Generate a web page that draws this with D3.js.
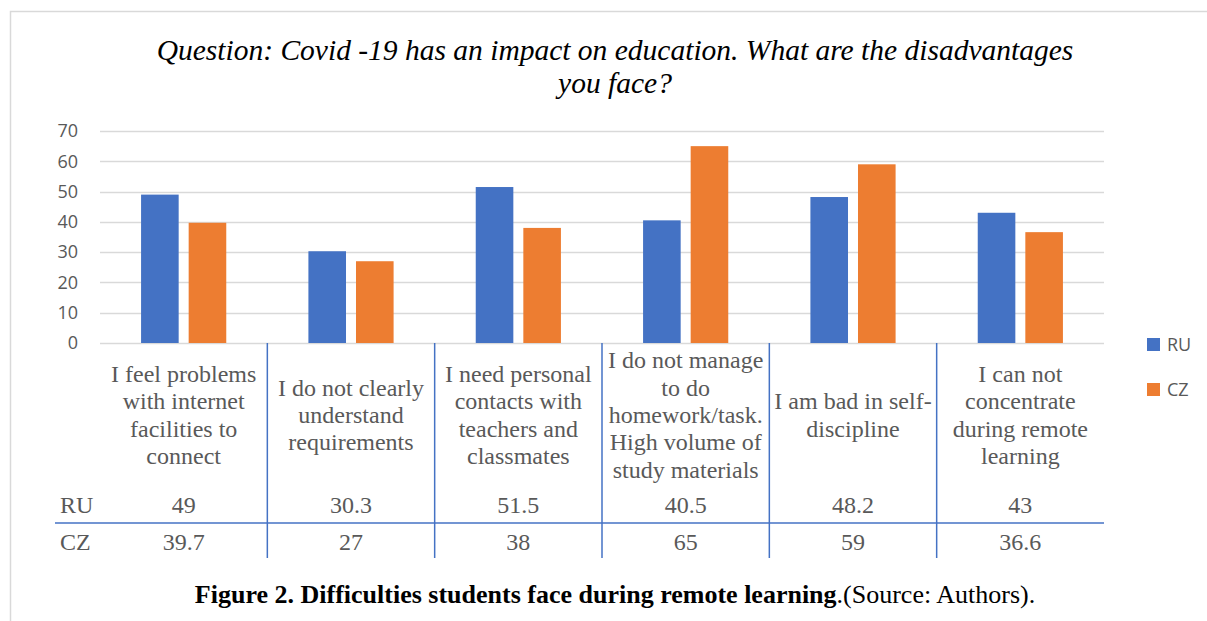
<!DOCTYPE html>
<html><head><meta charset="utf-8">
<script src="https://cdn.jsdelivr.net/npm/d3@7"></script>
<style>html,body{margin:0;padding:0;background:#fff;}svg{display:block;}</style>
</head><body>
<svg id="chart" width="1207" height="621"></svg>
<script>
const categories = [
  ["I feel problems","with internet","facilities to","connect"],
  ["I do not clearly","understand","requirements"],
  ["I need personal","contacts with","teachers and","classmates"],
  ["I do not manage","to do","homework/task.","High volume of","study materials"],
  ["I am bad in self-","discipline"],
  ["I can not","concentrate","during remote","learning"]
];
const seriesNames = ["RU","CZ"];
const ruValues = [49, 30.3, 51.5, 40.5, 48.2, 43];
const czValues = [39.7, 27, 38, 65, 59, 36.6];
const yTicks = [0,10,20,30,40,50,60,70];
const colors = ["#4472C4","#ED7D31"];
const titleLines = ["Question: Covid -19 has an impact on education. What are the disadvantages","you face?"];

(function(){
const series = [ruValues, czValues];
const svg = d3.select("#chart");
const pLeft = 100, pRight = 1104, pTop = 131, pBottom = 343;
const serif = "'Liberation Serif','Times New Roman',serif";

// frame
svg.append("rect").attr("x",10.5).attr("y",11.5).attr("width",1400).attr("height",800)
  .attr("fill","none").attr("stroke","#d9d9d9").attr("stroke-width",1.5);

const idx = categories.map((d,i)=>i);
const x = d3.scaleBand().domain(idx).range([pLeft,pRight]).paddingInner(0).paddingOuter(0);
const xs = d3.scaleBand().domain([0,1]).range([0,x.bandwidth()]).paddingInner(0.21).paddingOuter(0.863);
const y = d3.scaleLinear().domain([0,70]).range([pBottom,pTop]);

// title
const title = svg.append("text").attr("text-anchor","middle")
  .attr("font-family",serif).attr("font-style","italic")
  .attr("font-size",29.5).attr("fill","#000");
titleLines.forEach((t,i)=>title.append("tspan").attr("x",615).attr("y",60+i*33).text(t));

// gridlines
svg.append("g").selectAll("line").data(yTicks).join("line")
  .attr("x1",pLeft).attr("x2",pRight)
  .attr("y1",d=>Math.round(y(d))+0.5).attr("y2",d=>Math.round(y(d))+0.5)
  .attr("stroke","#d9d9d9").attr("stroke-width",1.3);

// y axis labels
const yAxis = d3.axisLeft(y).tickValues(yTicks).tickSize(0).tickPadding(0);
const gy = svg.append("g").attr("transform",`translate(78,0)`).call(yAxis);
gy.select(".domain").remove();
gy.selectAll("text").attr("font-family","'Open Sans','Liberation Sans',sans-serif")
  .attr("font-size",18).attr("fill","#595959");

// bars
const g = svg.append("g");
series.forEach((vals,s)=>{
  g.selectAll(null).data(vals).join("rect")
    .attr("x",(d,i)=>x(i)+xs(s)).attr("width",xs.bandwidth())
    .attr("y",d=>y(d)).attr("height",d=>y(0)-y(d))
    .attr("fill",colors[s]);
});

// table lines
const tableBottom = 558, rowLineY = 523;
svg.append("g").selectAll("line").data(idx.slice(1)).join("line")
  .attr("x1",d=>x(d)).attr("x2",d=>x(d)).attr("y1",pBottom).attr("y2",tableBottom)
  .attr("stroke","#4472C4").attr("stroke-width",1.5);
svg.append("line").attr("x1",55).attr("x2",pRight).attr("y1",rowLineY).attr("y2",rowLineY)
  .attr("stroke","#4472C4").attr("stroke-width",1.5);

// category labels
const lh = 27.3, baseCenter = 423;
categories.forEach((lines,i)=>{
  const t = svg.append("text").attr("text-anchor","middle").attr("font-family",serif)
    .attr("font-size",24).attr("fill","#595959");
  const y0 = baseCenter - (lines.length-1)*lh/2;
  lines.forEach((l,j)=>t.append("tspan").attr("x",x(i)+x.bandwidth()/2).attr("y",y0+j*lh).text(l));
});

// values rows
const rowY = [513, 550];
series.forEach((vals,s)=>{
  svg.append("text").attr("x",60).attr("y",rowY[s]).attr("font-family",serif)
    .attr("font-size",24).attr("fill","#595959").text(seriesNames[s]);
  svg.append("g").selectAll("text").data(vals).join("text")
    .attr("x",(d,i)=>x(i)+x.bandwidth()/2).attr("y",rowY[s]).attr("text-anchor","middle")
    .attr("font-family",serif).attr("font-size",24).attr("fill","#595959").text(d=>d);
});

// legend
seriesNames.forEach((n,s)=>{
  const ly = 338 + s*45;
  svg.append("rect").attr("x",1147).attr("y",ly).attr("width",13).attr("height",13).attr("fill",colors[s]);
  svg.append("text").attr("x",1167).attr("y",ly+13).attr("font-family","'Open Sans','Liberation Sans',sans-serif")
    .attr("font-size",18).attr("fill","#595959").text(n);
});

// caption
const cap = svg.append("text").attr("x",615).attr("y",603).attr("text-anchor","middle")
  .attr("font-family",serif).attr("font-size",26).attr("fill","#000");
cap.append("tspan").attr("font-weight","bold").text("Figure 2. Difficulties students face during remote learning");
cap.append("tspan").text(".(Source: Authors).");
})();
</script>
</body></html>
